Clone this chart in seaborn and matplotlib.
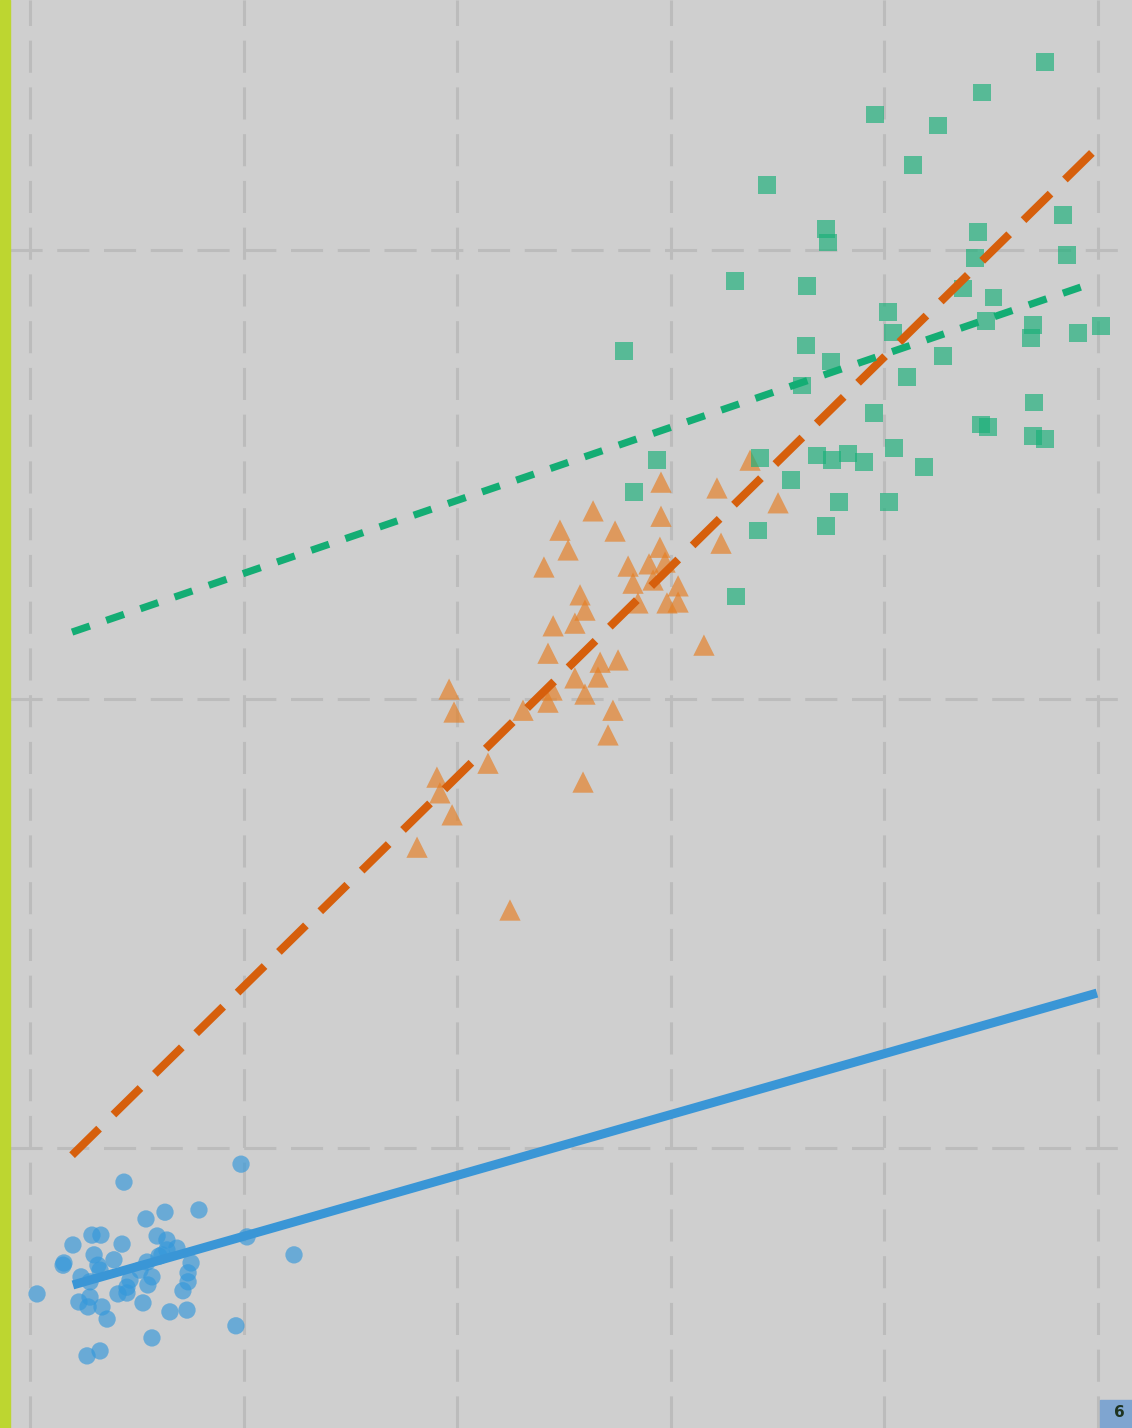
import matplotlib
matplotlib.use("Agg")
import matplotlib.pyplot as plt
from matplotlib.patches import Rectangle
import pandas as pd
import seaborn as sns

# --- data (x grid every 10, y grid every 10) ---
blue_x = [9.88, 4.40, 6.32, 5.43, 7.91, 2.90, 3.32, 2.01, 4.31, 5.95,
          6.41, 6.88, 1.59, 3.00, 3.18, 3.93, 5.48, 6.04, 6.41, 7.54,
          10.16, 12.36, 0.33, 2.39, 2.81, 2.29, 2.81, 2.72, 3.37, 3.61,
          4.12, 4.54, 4.54, 5.52, 5.71, 5.29, 6.55, 7.35, 7.16, 7.40,
          7.40, 5.71, 9.64, 2.67, 3.28, 1.55, 5.15, 6.18, 3.28, 4.68]
blue_y = [-0.36, -0.76, -1.43, -1.58, -1.38, -1.94, -1.94, -2.16, -2.14, -1.96,
          -2.05, -2.23, -2.56, -2.38, -2.61, -2.49, -2.54, -2.41, -2.27, -2.56,
          -1.98, -2.38, -3.25, -2.87, -2.98, -3.43, -3.32, -3.54, -3.54, -3.81,
          -3.25, -3.10, -3.23, -3.05, -2.87, -3.45, -3.65, -3.61, -3.18, -2.98,
          -2.78, -4.23, -3.96, -4.63, -4.52, -2.61, -2.72, -2.38, -2.72, -2.94]

orange_x = [29.54, 32.16, 26.36, 29.54, 24.81, 27.39, 25.19, 32.35, 29.49, 24.06,
            28.00, 28.98, 29.73, 28.23, 29.17, 30.34, 25.75, 25.98, 28.46, 29.82,
            30.34, 24.49, 25.51, 31.55, 24.25, 26.69, 27.53, 19.62, 19.85, 25.51,
            26.59, 25.98, 24.44, 24.25, 23.08, 27.29, 27.06, 21.44, 19.05, 19.19,
            19.76, 18.12, 25.89, 22.47, 33.71, 35.02]
orange_y = [14.83, 14.70, 14.19, 14.07, 13.76, 13.74, 13.32, 13.47, 13.38, 12.94,
            12.96, 13.01, 13.05, 12.58, 12.65, 12.52, 12.32, 11.98, 12.14, 12.14,
            12.16, 11.63, 11.69, 11.20, 11.02, 10.82, 10.87, 10.22, 9.71, 10.47,
            10.49, 10.11, 10.20, 9.93, 9.75, 9.75, 9.20, 8.57, 8.26, 7.91,
            7.42, 6.70, 8.15, 5.30, 15.32, 14.37]

green_x = [47.52, 44.57, 39.56, 42.51, 34.50, 41.34, 27.81, 33.01, 37.27, 37.36,
           36.38, 48.36, 44.38, 44.24, 48.55, 43.68, 45.09, 40.17, 40.40, 46.96,
           46.86, 49.06, 50.14, 44.76, 36.33, 37.50, 42.74, 36.14, 41.06, 39.51,
           47.00, 29.35, 34.18, 36.84, 37.55, 38.30, 39.04, 40.45, 44.52, 44.85,
           46.96, 47.52, 28.28, 35.63, 37.87, 40.22, 41.85, 34.08, 37.27, 33.05]
green_y = [24.19, 23.50, 23.01, 22.78, 21.45, 21.89, 17.75, 19.31, 20.47, 20.16,
           19.20, 20.78, 20.40, 19.82, 19.89, 19.15, 18.95, 18.62, 18.17, 18.33,
           18.04, 18.15, 18.31, 18.42, 17.88, 17.51, 17.64, 16.99, 17.17, 16.37,
           16.61, 15.32, 15.37, 15.43, 15.32, 15.46, 15.28, 15.59, 16.12, 16.06,
           15.86, 15.79, 14.61, 14.88, 14.39, 14.39, 15.17, 13.76, 13.85, 12.29]

# fitted trend lines (end points)
blue_fit_x = [2.01, 49.95]
blue_fit_y = [-3.05, 3.45]
orange_fit_x = [1.97, 49.86]
orange_fit_y = [-0.16, 22.23]
green_fit_x = [1.97, 49.60]
green_fit_y = [11.49, 19.24]

colors = {"blue": "#3498db", "orange": "#e67e22", "green": "#19b079"}
line_colors = {"blue": "#3a96d6", "orange": "#d65f0c", "green": "#14ad74"}

df = pd.concat([
    pd.DataFrame({"x": blue_x, "y": blue_y, "group": "blue"}),
    pd.DataFrame({"x": orange_x, "y": orange_y, "group": "orange"}),
    pd.DataFrame({"x": green_x, "y": green_y, "group": "green"}),
], ignore_index=True)

sns.set_style("darkgrid", {"axes.facecolor": "#cfcfcf", "figure.facecolor": "#cfcfcf"})

fig = plt.figure(figsize=(11.32, 14.28), dpi=100)
ax = fig.add_axes([10 / 1132, 0, 1122 / 1132, 1])

sns.scatterplot(data=df, x="x", y="y", hue="group", style="group", size="group",
                palette=colors,
                markers={"blue": "o", "orange": "^", "green": "s"},
                sizes={"blue": 155, "orange": 235, "green": 155},
                alpha=0.66, linewidth=0, legend=False, ax=ax, zorder=3)

sns.lineplot(x=blue_fit_x, y=blue_fit_y, color=line_colors["blue"], lw=6.5,
             ax=ax, zorder=4, solid_capstyle="butt")
sns.lineplot(x=orange_fit_x, y=orange_fit_y, color=line_colors["orange"], lw=5.8,
             linestyle=(0, (4.7, 2.5)), ax=ax, zorder=4)
sns.lineplot(x=green_fit_x, y=green_fit_y, color=line_colors["green"], lw=5.2,
             linestyle=(0, (2.6, 2.4)), ax=ax, zorder=4)

ax.set_xticks([0, 10, 20, 30, 40, 50])
ax.set_yticks([-10, 0, 10, 20])
ax.set_xlim(-0.936, 51.59)
ax.set_ylim(-6.236, 25.568)
ax.grid(True, color="#bcbcbc", linewidth=2.2, linestyle=(0, (10.5, 4.8)))
ax.set_axisbelow(True)
ax.tick_params(length=0, labelleft=False, labelbottom=False)
ax.set_xlabel("")
ax.set_ylabel("")
for sp in ax.spines.values():
    sp.set_visible(False)

# left accent strip and page badge
fig.add_artist(Rectangle((0, 0), 10 / 1132, 1, transform=fig.transFigure,
                         color="#bdd630", zorder=10))
fig.add_artist(Rectangle((1100 / 1132, 0), 32 / 1132, 28 / 1428,
                         transform=fig.transFigure, color="#7fa5d0", zorder=10))
fig.text(1119 / 1132, 8 / 1428, "6", color="#1e3320", fontsize=11,
         fontweight="bold", ha="center", va="bottom", zorder=11)

plt.savefig("out.png", dpi=100)
plt.close()
